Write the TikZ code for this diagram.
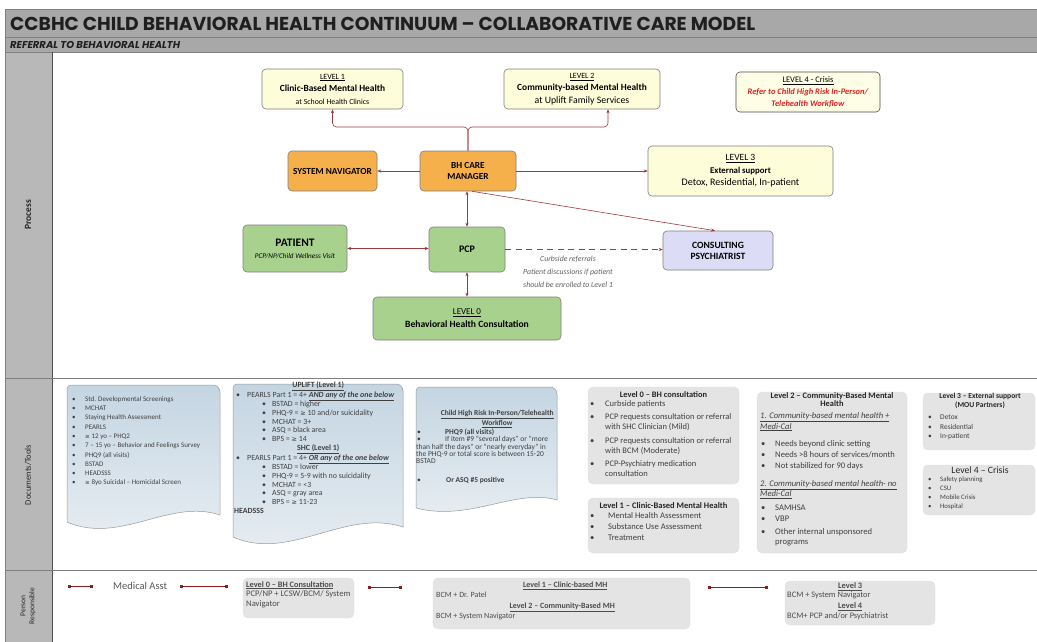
\documentclass[tikz,border=0pt]{standalone}
\usepackage{fontspec}
\usepackage{graphicx}
\setmainfont{Carlito}
\newfontfamily\hdrfont{Poppins}
\newfontfamily\symf{DejaVu Sans}
\usetikzlibrary{arrows.meta,calc}
\definecolor{hdr}{HTML}{A8A8A8}
\definecolor{lcol}{HTML}{B8B8B8}
\definecolor{yel}{HTML}{FDFDDA}
\definecolor{yelb}{HTML}{FEFEE6}
\definecolor{org}{HTML}{F5B04C}
\definecolor{grn}{HTML}{A9D18E}
\definecolor{lav}{HTML}{DCDCF7}
\definecolor{arrred}{HTML}{A0393B}
\definecolor{prred}{HTML}{8E1C1C}
\definecolor{gbx}{HTML}{E4E4E4}
\definecolor{docA}{HTML}{C4D5E2}
\definecolor{docB}{HTML}{E8EEF3}
\definecolor{txt}{HTML}{262626}
\definecolor{dtx}{HTML}{404040}
\definecolor{bord}{HTML}{7F7F7F}
\definecolor{critred}{HTML}{E02020}
\newcommand\bl[1][13pt]{\makebox[#1][l]{\textbullet}}
\newcommand\gq{{\symf\scalebox{0.82}{≥}}}
\tikzset{
  pbox/.style={draw=bord, line width=0.6pt, rounded corners=4pt, align=center, inner sep=0pt},
  conn/.style={draw=arrred, line width=0.6pt, -{Stealth[length=4pt,width=3.2pt]}},
  biconn/.style={draw=arrred, line width=0.6pt, {Stealth[length=4pt,width=3.2pt]}-{Stealth[length=4pt,width=3.2pt]}},
  gbox/.style={fill=gbx, draw=gray!22, rounded corners=5pt, inner sep=0pt},
  docsh/.style={draw=bord!80, line width=0.5pt, top color=docA, bottom color=docB},
  prl/.style={draw=prred, line width=0.7pt, {Square[length=2.6pt,width=2.6pt]}-{Square[length=2.6pt,width=2.6pt]}},
  tx/.style={inner sep=0pt, align=left, anchor=north west, text=dtx},
  ctx/.style={inner sep=0pt, align=center, text=txt},
}
\begin{document}
\begin{tikzpicture}[x=1pt,y=-1pt]
\useasboundingbox (0,0) rectangle (1037,642);
\fill[white] (0,0) rectangle (1037,642);
% frame
\fill[hdr] (5,9) rectangle (1037,52);
\fill[lcol] (5,52) rectangle (52,642);
\draw[bord, line width=0.7pt] (5,9) rectangle (1037,642);
\draw[bord] (5,37) -- (1037,37);
\draw[bord] (5,52) -- (1037,52);
\draw[black!70] (52,52) -- (52,642);
\draw[bord] (5,378) -- (1037,378);
\draw[bord] (5,570) -- (1037,570);
\node[anchor=west, inner sep=0pt] (title) at (10,23.5) {\hdrfont\bfseries\color{black!88}\resizebox{745pt}{!}{CCBHC CHILD BEHAVIORAL HEALTH CONTINUUM – COLLABORATIVE CARE MODEL}};
\node[anchor=west, inner sep=0pt] (sub) at (10,45) {\hdrfont\bfseries\itshape\color{black!88}\resizebox{170pt}{!}{REFERRAL TO BEHAVIORAL HEALTH}};
% row labels
\node[rotate=90, inner sep=0pt, font=\bfseries\fontsize{9.5}{9.5}\selectfont, text=txt] (lp) at (28,215) {Process};
\node[rotate=90, inner sep=0pt, font=\fontsize{8.5}{8.5}\selectfont, text=txt] (ld) at (28,475) {Documents/Tools};
\node[rotate=90, inner sep=0pt, align=center, font=\fontsize{7.5}{9}\selectfont, text=txt] (lr) at (28,606) {Person\\Responsible};

% ---------- Process ----------
\node[pbox, fill=yel, minimum width=141pt, minimum height=40pt, font=\fontsize{8}{12.5}\selectfont] (l1) at (332.5,89)
  {\underline{LEVEL 1}\\{\bfseries\fontsize{9.4}{12.5}\selectfont Clinic-Based Mental Health}\\{\fontsize{7.8}{12.5}\selectfont at School Health Clinics}};
\node[pbox, fill=yel, minimum width=156pt, minimum height=40pt, font=\fontsize{8}{12.5}\selectfont] (l2) at (582,89)
  {\underline{LEVEL 2}\\{\bfseries\fontsize{9.4}{12.5}\selectfont Community-based Mental Health}\\{\fontsize{9.8}{12.5}\selectfont at Uplift Family Services}};
\node[pbox, draw=black!70, fill=yelb, minimum width=144pt, minimum height=40pt, font=\fontsize{8.5}{12}\selectfont] (l4) at (808,92)
  {\underline{LEVEL 4 -  Crisis}\\\textcolor{critred}{\bfseries\itshape Refer to Child High Risk In-Person/}\\\textcolor{critred}{\bfseries\itshape Telehealth Workflow}};
\node[pbox, fill=org, minimum width=89pt, minimum height=40pt, font=\bfseries\fontsize{9.3}{10}\selectfont] (sn) at (332.5,171) {SYSTEM NAVIGATOR};
\node[pbox, fill=org, minimum width=96pt, minimum height=40pt, font=\bfseries\fontsize{9.3}{11}\selectfont] (bh) at (468,171) {BH CARE\\MANAGER};
\node[pbox, fill=yel, minimum width=185pt, minimum height=50pt, font=\fontsize{9.5}{12.5}\selectfont] (l3) at (740.5,171)
  {\underline{LEVEL 3}\\{\bfseries\fontsize{8.8}{12.5}\selectfont External support}\\{\fontsize{10}{12.5}\selectfont Detox, Residential, In-patient}};
\node[pbox, fill=lav, minimum width=110pt, minimum height=39pt, font=\bfseries\fontsize{9.6}{11}\selectfont] (cp) at (718,250.5) {CONSULTING\\PSYCHIATRIST};
\node[pbox, fill=grn, minimum width=104pt, minimum height=47pt] (pt) at (295,248.5)
  {{\bfseries\fontsize{11.5}{14}\selectfont PATIENT}\\{\itshape\fontsize{7.2}{9}\selectfont PCP/NP/Child Wellness Visit}};
\node[pbox, fill=grn, minimum width=76pt, minimum height=45pt, font=\bfseries\fontsize{10}{10}\selectfont] (pcp) at (467,249.5) {PCP};
\node[pbox, fill=grn, minimum width=188pt, minimum height=43pt, font=\fontsize{9}{13}\selectfont] (l0) at (467,318.5)
  {\underline{LEVEL 0}\\{\bfseries\fontsize{9.6}{13}\selectfont Behavioral Health Consultation}};
\node[ctx, text=black!62, font=\itshape\fontsize{7.8}{12.8}\selectfont] (curb) at (568,272) {Curbside referrals\\Patient discussions if patient\\should be enrolled to Level 1};

\coordinate (j) at (468,127);
\draw[conn, rounded corners=4pt] (bh.north) -- (j) -| (l1.south);
\draw[conn, rounded corners=4pt] (bh.north) -- (j) -| ($(l2.south)+(26,0)$);
\draw[conn] (bh.west) -- (sn.east);
\draw[conn] (bh.east) -- (l3.west);
\draw[biconn] (pcp.north) -- (pcp.north |- bh.south);
\draw[conn] ($(bh.south)+(4,0)$) -- ($(cp.north)+(-3,0)$);
\draw[biconn] (pt.east) -- (pt.east -| pcp.west);
\draw[conn, dash pattern=on 6pt off 4.5pt] (pcp.east) -- (pcp.east -| cp.west);
\draw[biconn] (pcp.south) -- (l0.north);

% ---------- Documents / Tools ----------
\path[docsh] (67,522) [rounded corners=4pt] -- (67,385) [rounded corners=7pt] -- (220,385) [sharp corners] -- (220,515)
  .. controls (170,498) and (120,545) .. (67,522) -- cycle;
\path[docsh] (233,537) [rounded corners=4pt] -- (233,384) [rounded corners=7pt] -- (403,384) [sharp corners] -- (403,527)
  .. controls (345,508) and (290,562) .. (233,537) -- cycle;
\path[docsh] (416,508) [rounded corners=4pt] -- (416,387) [rounded corners=7pt] -- (557,387) [sharp corners] -- (557,500)
  .. controls (515,488) and (470,522) .. (416,508) -- cycle;

\node[tx, font=\fontsize{7}{9.3}\selectfont] (d1t) at (72,396.2)
 {\bl Std. Developmental Screenings\\
  \bl MCHAT\\
  \bl Staying Health Assessment\\
  \bl PEARLS\\
  \bl \gq{} 12 yo – PHQ2\\
  \bl 7 – 15 yo – Behavior and Feelings Survey\\
  \bl PHQ9 (all visits)\\
  \bl BSTAD\\
  \bl HEADSSS\\
  \bl \gq{} 8yo Suicidal – Homicidal Screen};

\node[tx, font=\fontsize{7.9}{8.7}\selectfont] (d2t) at (234,381.3)
 {\makebox[168pt][c]{\textbf{\underline{UPLIFT (Level 1)}}}\\
  \hspace*{2pt}\bl[11pt]PEARLS Part 1 = 4+ \textbf{\textit{\underline{AND any of the one below}}}\\
  \hspace*{28pt}\bl[10pt]BSTAD = higher\\
  \hspace*{28pt}\bl[10pt]PHQ-9 = \gq{} 10 and/or suicidality\\
  \hspace*{28pt}\bl[10pt]MCHAT = 3+\\
  \hspace*{28pt}\bl[10pt]ASQ = black area\\
  \hspace*{28pt}\bl[10pt]BPS = \gq{} 14\\
  \makebox[168pt][c]{\textbf{\underline{SHC (Level 1)}}}\\
  \hspace*{2pt}\bl[11pt]PEARLS Part 1 = 4+ \textbf{\textit{\underline{OR any of the one below}}}\\
  \hspace*{28pt}\bl[10pt]BSTAD = lower\\
  \hspace*{28pt}\bl[10pt]PHQ-9 = 5-9 with no suicidality\\
  \hspace*{28pt}\bl[10pt]MCHAT = <3\\
  \hspace*{28pt}\bl[10pt]ASQ = gray area\\
  \hspace*{28pt}\bl[10pt]BPS = \gq{} 11-23\\
  \textbf{HEADSSS}};

\node[tx, font=\fontsize{7.5}{7.4}\selectfont] (d3t) at (416,410)
 {\makebox[162pt][c]{\textbf{\underline{Child High Risk In-Person/Telehealth}}}\\[0.6pt]
  \makebox[162pt][c]{\textbf{\underline{Workflow}}}\\
  \hspace*{1pt}\bl[28pt]\textbf{PHQ9 (all visits)}\\
  \hspace*{1pt}\bl[28pt]If item \#9 ``several days'' or ``more\\
  than half the days'' or ``nearly everyday'' in\\
  the PHQ-9 or total score is between 15-20\\
  BSTAD\\[11.6pt]
  \hspace*{1pt}\bl[29pt]\textbf{Or ASQ \#5 positive}};

% gray boxes
\node[gbox, minimum width=151pt, minimum height=97pt] (b0) at (663.5,435.5) {};
\node[gbox, minimum width=151pt, minimum height=55pt] (b1) at (663.5,525.5) {};
\node[gbox, minimum width=150pt, minimum height=161pt] (b2) at (832,472.5) {};
\node[gbox, minimum width=112pt, minimum height=57pt] (b3) at (979,421.5) {};
\node[gbox, minimum width=112pt, minimum height=50pt] (b4) at (979,490) {};

\node[ctx, font=\bfseries\fontsize{8.4}{8}\selectfont] (b0h) at (663.5,394.5) {Level 0 – BH consultation};
\node[tx, font=\fontsize{8.5}{10}\selectfont] (b0t) at (590,400.6)
 {\bl[15pt]Curbside patients\\[3pt]
  \bl[15pt]PCP requests consultation or referral\\
  \hspace*{15pt}with SHC Clinician (Mild)\\[3.5pt]
  \bl[15pt]PCP requests consultation or referral\\
  \hspace*{15pt}with BCM (Moderate)\\[3pt]
  \bl[15pt]PCP-Psychiatry medication\\
  \hspace*{15pt}consultation};
\node[ctx, font=\bfseries\fontsize{8.5}{8}\selectfont] (b1h) at (663.5,506) {Level 1 – Clinic-Based Mental Health};
\node[tx, font=\fontsize{8.6}{11}\selectfont] (b1t) at (590,512.6)
 {\bl[18pt]Mental Health Assessment\\
  \bl[18pt]Substance Use Assessment\\
  \bl[18pt]Treatment};
\node[ctx, font=\bfseries\fontsize{8.4}{8}\selectfont] (b2h) at (832,400) {Level 2 – Community-Based Mental\\Health};
\node[tx, font=\fontsize{8.6}{8}\selectfont] (b2t) at (760,412.6)
 {\underline{\textit{1. Community-based mental health +}}\\
  \underline{\textit{Medi-Cal}}\\[8pt]
  \hspace*{1pt}\bl[14pt]Needs beyond clinic setting\\[3pt]
  \hspace*{1pt}\bl[14pt]Needs >8 hours of services/month\\[3pt]
  \hspace*{1pt}\bl[14pt]Not stabilized for 90 days\\[10pt]
  \underline{\textit{2. Community-based mental health- no}}\\
  \underline{\textit{Medi-Cal}}\\[6pt]
  \hspace*{1pt}\bl[14pt]SAMHSA\\[3pt]
  \hspace*{1pt}\bl[14pt]VBP\\[5pt]
  \hspace*{1pt}\bl[14pt]Other internal unsponsored\\[2pt]
  \hspace*{15pt}programs};
\node[ctx, font=\bfseries\fontsize{7.6}{9}\selectfont] (b3h) at (980,400.5) {Level 3  – External support\\(MOU Partners)};
\node[tx, font=\fontsize{7.4}{9.5}\selectfont] (b3t) at (928,415)
 {\bl[12pt]Detox\\ \bl[12pt]Residential\\ \bl[12pt]In-patient};
\node[ctx, font=\fontsize{9.7}{9}\selectfont] (b4h) at (980,470) {Level 4  – Crisis};
\node[tx, font=\fontsize{6.8}{9}\selectfont] (b4t) at (928,476.4)
 {\bl[12pt]Safety planning\\ \bl[12pt]CSU\\ \bl[12pt]Mobile Crisis\\ \bl[12pt]Hospital};

% ---------- Person Responsible ----------
\coordinate (c1a) at (68,586); \coordinate (c1b) at (93,586);
\coordinate (c2a) at (180,586); \coordinate (c2b) at (228,586);
\coordinate (c3a) at (368,587); \coordinate (c3b) at (402,587);
\coordinate (c4a) at (708,587); \coordinate (c4b) at (768,587);
\draw[prl] (c1a) -- (c1b);
\draw[prl] (c2a) -- (c2b);
\draw[prl] (c3a) -- (c3b);
\draw[prl] (c4a) -- (c4b);
\node[inner sep=0pt, anchor=west, text=black!65, font=\fontsize{10.5}{11}\selectfont] (ma) at (113,586) {Medical Asst};

\node[gbox, minimum width=111pt, minimum height=40pt] (pb0) at (298.5,598) {};
\node[gbox, minimum width=257pt, minimum height=51pt] (pb1) at (561.5,603.5) {};
\node[gbox, minimum width=150pt, minimum height=44pt] (pb2) at (860,603) {};
\node[tx, text=black!70, font=\fontsize{8.6}{9.5}\selectfont] (pb0t) at (246,581)
 {{\bfseries\fontsize{8.3}{9.5}\selectfont\underline{Level 0 – BH Consultation}}\\PCP/NP + LCSW/BCM/ System\\Navigator};
\node[tx, text=black!70, font=\fontsize{8}{10}\selectfont] (pb1t) at (436,581.5)
 {\makebox[258pt][c]{\bfseries\fontsize{8}{10}\selectfont\underline{Level 1 – Clinic-based MH}}\\
  BCM + Dr. Patel\\[1pt]
  \makebox[252pt][c]{\bfseries\fontsize{8}{10}\selectfont\underline{Level 2 – Community-Based MH}}\\
  BCM + System Navigator};
\node[tx, text=black!70, font=\fontsize{8.4}{10}\selectfont] (pb2t) at (787,582.5)
 {\makebox[126pt][c]{\textbf{\underline{Level 3}}}\\[-1.5pt]
  BCM + System Navigator\\[1.5pt]
  \makebox[126pt][c]{\textbf{\underline{Level 4}}}\\
  BCM+ PCP and/or Psychiatrist};
\end{tikzpicture}
\end{document}
